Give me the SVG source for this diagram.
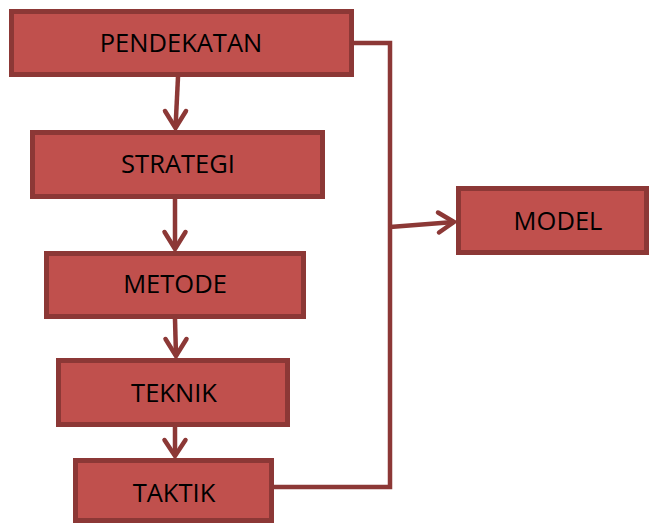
<svg xmlns="http://www.w3.org/2000/svg" width="649" height="524" viewBox="0 0 649 524">
<style>
.box{fill:#C0504D;stroke:#8C3836;stroke-width:5}
.lbl{font-family:"Open Sans","Liberation Sans",sans-serif;font-size:25.5px;fill:#000;text-anchor:middle}
.con{fill:none;stroke:#8C3836;stroke-width:4.5}
.head{fill:none;stroke:#8C3836;stroke-width:4.5;stroke-linecap:round;stroke-linejoin:miter}
</style>
<rect width="649" height="524" fill="#fff"/>
<g id="connectors">
<line class="con" x1="178" y1="77" x2="175.5" y2="128"/>
<polyline class="head" points="165,111 175.5,128 186,111"/>
<line class="con" x1="175" y1="199" x2="175" y2="249"/>
<polyline class="head" points="164.5,232 175,249 185.5,232"/>
<line class="con" x1="175" y1="319" x2="176" y2="356"/>
<polyline class="head" points="165.5,339 176,356 186.5,339"/>
<line class="con" x1="175" y1="427" x2="175" y2="456"/>
<polyline class="head" points="164.5,440 175,456 185.5,440"/>
<polyline class="con" points="354,43 390,43 390,487 274,487"/>
<line class="con" x1="390" y1="227" x2="454" y2="222"/>
<polyline class="head" points="438,212.5 454,222 439,232.5"/>
</g>
<g id="pendekatan"><rect class="box" x="11.5" y="11.5" width="340" height="63"/><text class="lbl" x="181" y="52">PENDEKATAN</text></g>
<g id="strategi"><rect class="box" x="32.5" y="132.5" width="290" height="64"/><text class="lbl" x="178" y="173">STRATEGI</text></g>
<g id="metode"><rect class="box" x="46.5" y="253.5" width="257" height="63"/><text class="lbl" x="175" y="293">METODE</text></g>
<g id="teknik"><rect class="box" x="58.5" y="360.5" width="229" height="64"/><text class="lbl" x="174" y="402">TEKNIK</text></g>
<g id="taktik"><rect class="box" x="75.5" y="460.5" width="196" height="60"/><text class="lbl" x="174" y="502">TAKTIK</text></g>
<g id="model"><rect class="box" x="458.5" y="188.5" width="188" height="64"/><text class="lbl" x="558" y="230">MODEL</text></g>
</svg>
